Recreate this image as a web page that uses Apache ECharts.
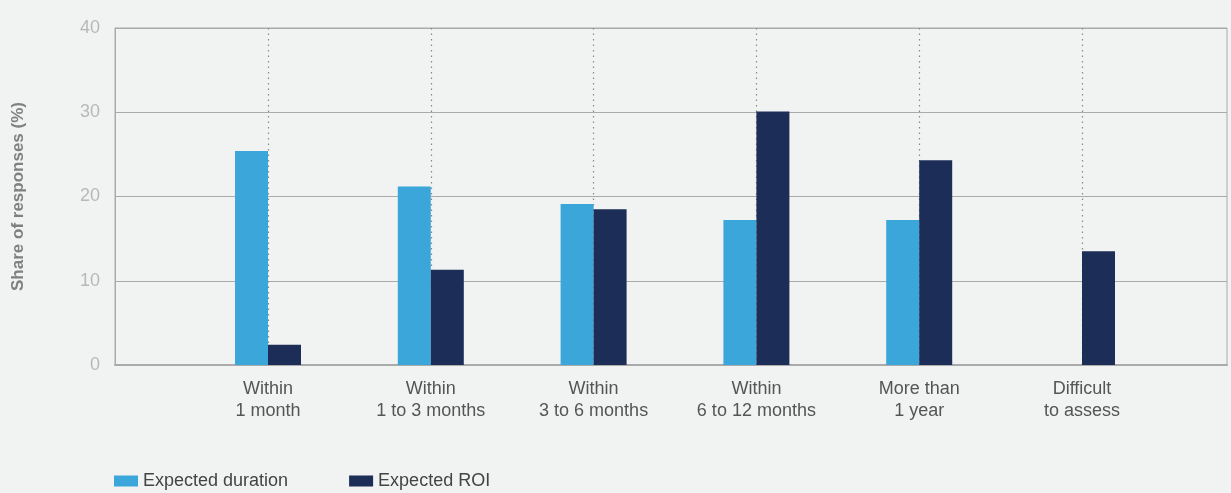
<!DOCTYPE html>
<html>
<head>
<meta charset="utf-8">
<script src="https://cdn.jsdelivr.net/npm/echarts@6/dist/echarts.min.js"></script>
<style>
  html, body { margin: 0; padding: 0; background: #f1f2f2; }
  #main { width: 1231px; height: 493px; }
</style>
</head>
<body>
<div id="main"></div>
<script>
var categories = ['Within\n1 month', 'Within\n1 to 3 months', 'Within\n3 to 6 months',
  'Within\n6 to 12 months', 'More than\n1 year', 'Difficult\nto assess'];
var durationValues = [25.4, 21.2, 19.1, 17.2, 17.2, null];
var roiValues = [2.4, 11.3, 18.5, 30.1, 24.3, 13.5];
var yTicks = [0, 10, 20, 30, 40];

var font = 'Liberation Sans';
var chart = echarts.init(document.getElementById('main'));

var option = {
  backgroundColor: '#f1f2f2',
  textStyle: { fontFamily: font },
  legend: {
    left: 109,
    top: 467,
    itemWidth: 24,
    itemHeight: 11,
    itemGap: 61,
    icon: 'rect',
    textStyle: { color: '#444', fontSize: 18, fontFamily: font },
    data: ['Expected duration', 'Expected ROI']
  },
  grid: [
    // frame grid with the value scale
    { left: 115, right: 4, top: 28, bottom: 128, show: true, borderColor: '#aaa', borderWidth: 1, backgroundColor: 'transparent' },
    // bar grid, ticks on category centres
    { left: 268, right: 149, top: 28, bottom: 128 }
  ],
  xAxis: [
    {
      gridIndex: 0, type: 'value', min: 0, max: 1,
      axisLabel: { show: false }, axisTick: { show: false }, splitLine: { show: false },
      axisLine: { show: true, lineStyle: { color: '#aaa', width: 2 } }
    },
    {
      gridIndex: 1, type: 'category', data: categories, boundaryGap: false,
      axisLine: { show: false }, axisTick: { show: false },
      axisLabel: { color: '#555', fontSize: 18, lineHeight: 22, margin: 13, fontFamily: font, interval: 0 },
      splitLine: { show: true, lineStyle: { color: '#888', type: [1.5, 4], width: 1.2 } }
    }
  ],
  yAxis: [
    {
      gridIndex: 0, type: 'value', min: yTicks[0], max: yTicks[yTicks.length - 1], interval: 10,
      name: 'Share of responses (%)', nameLocation: 'middle', nameGap: 88,
      nameTextStyle: { color: '#808080', fontSize: 17, fontWeight: 'bold', fontFamily: font },
      axisLine: { show: true, lineStyle: { color: '#aaa' } },
      axisTick: { show: false },
      axisLabel: { color: '#b8b8b8', fontSize: 18, margin: 15, fontFamily: font },
      splitLine: { show: true, lineStyle: { color: '#aaa', width: 1 } }
    },
    {
      gridIndex: 1, type: 'value', min: 0, max: 40, show: false,
      splitLine: { show: false }
    }
  ],
  series: [
    {
      name: 'Expected duration', type: 'bar', xAxisIndex: 1, yAxisIndex: 1,
      barWidth: 33, barGap: '0%',
      itemStyle: { color: '#3aa6da' },
      data: durationValues
    },
    {
      name: 'Expected ROI', type: 'bar', xAxisIndex: 1, yAxisIndex: 1,
      barWidth: 33, barGap: '0%',
      itemStyle: { color: '#1c2d57' },
      data: roiValues
    }
  ]
};

chart.setOption(option);
</script>
</body>
</html>
